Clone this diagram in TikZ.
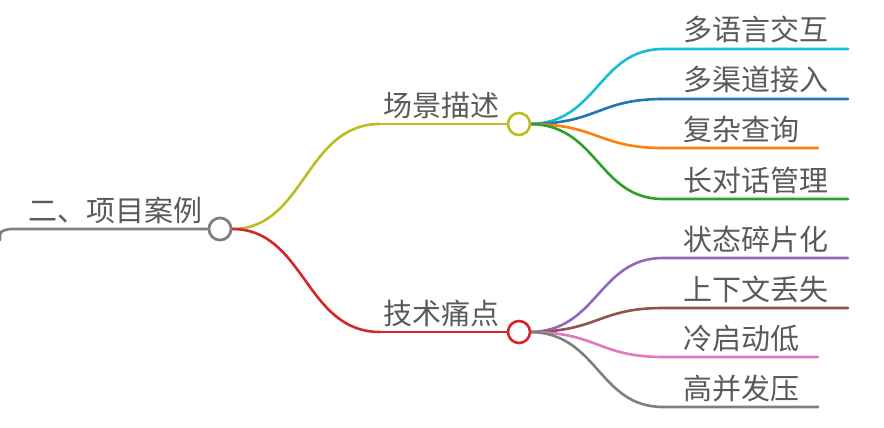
\documentclass[tikz,border=0pt]{standalone}
\usepackage{fontspec}
\setmainfont{Noto Sans CJK SC}
\definecolor{txt}{HTML}{5A5A5A}
\definecolor{cgray}{HTML}{7F7F7F}
\definecolor{colive}{HTML}{BCBD22}
\definecolor{cred}{HTML}{D62728}
\definecolor{ccyan}{HTML}{17BECF}
\definecolor{cblue}{HTML}{1F77B4}
\definecolor{corange}{HTML}{FF7F0E}
\definecolor{cgreen}{HTML}{2CA02C}
\definecolor{cpurple}{HTML}{9467BD}
\definecolor{cbrown}{HTML}{8C564B}
\definecolor{cpink}{HTML}{E377C2}
\begin{document}
\begin{tikzpicture}[x=1pt,y=-1pt,line width=2.6pt,line cap=round,
  lbl/.style={font=\fontsize{29}{29}\selectfont, text=txt, inner sep=0pt, anchor=base west},
  hub/.style={circle, draw=#1, fill=white, line width=2.6pt, minimum size=22pt, inner sep=0pt}]
\useasboundingbox (0,0) rectangle (884,428);
% root
\coordinate (r0) at (0,240);
\coordinate (r1) at (10,229);
\node[hub=cgray] (root) at (220,229) {};
\node[lbl] (rootlbl) at (27,221) {二、项目案例};
% branches
\coordinate (a0) at (380,124);
\coordinate (b0) at (380,332);
\node[lbl] (albl) at (382,116) {场景描述};
\node[lbl] (blbl) at (382,324) {技术痛点};
\draw[cgray] (r0) .. controls (0,231) .. (r1) -- (root.center);
\draw[colive] (root.east) .. controls (305,229) and (305,124) .. (a0);
\draw[cred] (root.east) .. controls (305,229) and (305,332) .. (b0);
\node[hub=cgray] at (root) {};
\draw[colive] (a0) -- (519,124) coordinate (ac);
\draw[cred] (b0) -- (519,332) coordinate (bc);
% leaves
\foreach \y/\t/\c/\e/\n in {49/多语言交互/ccyan/848/l1, 99/多渠道接入/cblue/848/l2, 148/复杂查询/corange/818/l3, 199/长对话管理/cgreen/848/l4}{
  \coordinate (\n s) at (663,\y);
  \coordinate (\n e) at (\e,\y);
  \node[lbl] (\n) at (682,\y-8) {\t};
  \draw[\c] (529,124) .. controls (598,124) and (598,\y) .. (\n s) -- (\n e);
}
\foreach \y/\t/\c/\e/\n in {258/状态碎片化/cpurple/848/m1, 308/上下文丢失/cbrown/848/m2, 357/冷启动低/cpink/818/m3, 407/高并发压/cgray/818/m4}{
  \coordinate (\n s) at (663,\y);
  \coordinate (\n e) at (\e,\y);
  \node[lbl] (\n) at (682,\y-8) {\t};
  \draw[\c] (529,332) .. controls (598,332) and (598,\y) .. (\n s) -- (\n e);
}
\node[hub=colive] (ahub) at (ac) {};
\node[hub=cred] (bhub) at (bc) {};
\end{tikzpicture}
\end{document}
